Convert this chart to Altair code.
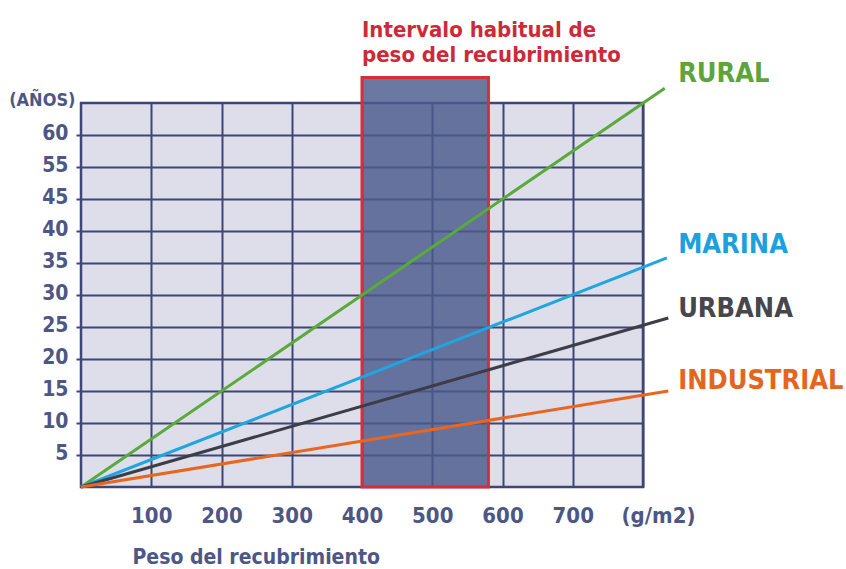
import altair as alt
import pandas as pd

# ---- data ----
series = ["RURAL", "MARINA", "URBANA", "INDUSTRIAL"]
start_x = [0, 0, 0, 0]
start_y = [0, 0, 0, 0]
end_x = [831, 834, 836, 836]
end_y = [62.3, 35.8, 26.4, 15.0]
series_colors = ["#5aaa3a", "#1fa5e0", "#3d3d48", "#e8661f"]
label_colors = ["#5ca53a", "#1ea0dc", "#46464c", "#e4661e"]
label_x = [850, 850, 850, 850]
label_y = [64.5, 37.8, 27.8, 16.5]

band_start = [400]
band_end = [580]
band_low = [0]
band_high = [64]
band_title = ["Intervalo habitual de\npeso del recubrimiento"]
band_title_y = [70.3]

x_tick_values = [100, 200, 300, 400, 500, 600, 700, 800]
x_tick_labels = ["100", "200", "300", "400", "500", "600", "700", "(g/m2)"]
y_tick_values = [5, 10, 15, 20, 25, 30, 35, 40, 45, 50, 55]
y_tick_labels = ["5", "10", "15", "20", "25", "30", "35", "40", "45", "55", "60"]

FONT = "DejaVu Sans Condensed, DejaVu Sans, sans-serif"
AXIS_COLOR = "#4d5785"
GRID = "#3d4677"

def label_expr(values, labels):
    expr = "datum.label"
    for v, l in zip(reversed(values), reversed(labels)):
        expr = f"datum.value == {v} ? '{l}' : ({expr})"
    return expr

lines_df = pd.DataFrame({
    "serie": series * 2,
    "peso": start_x + end_x,
    "anos": start_y + end_y,
    "orden": [0] * 4 + [1] * 4,
})
labels_df = pd.DataFrame({"serie": series, "peso": label_x, "anos": label_y})
band_df = pd.DataFrame({"peso": band_start, "peso2": band_end, "anos": band_low, "anos2": band_high})
title_df = pd.DataFrame({"peso": band_start, "anos": band_title_y, "t": band_title})

xscale = alt.Scale(domain=[0, 800], nice=False, zero=False)
yscale = alt.Scale(domain=[0, 60], nice=False, zero=False)
cscale = alt.Scale(domain=series, range=series_colors)
lscale = alt.Scale(domain=series, range=label_colors)

x_axis = alt.Axis(
    values=x_tick_values, labelExpr=label_expr(x_tick_values, x_tick_labels),
    grid=True, gridColor=GRID, gridWidth=2, gridOpacity=1,
    ticks=False, domain=False, labelFont=FONT, labelFontSize=22, labelFontWeight="bold",
    labelColor=AXIS_COLOR, labelPadding=18, labelFlush=False,
    labelOffset={"condition": {"test": "datum.value == 800", "value": 15}, "value": 0},
    title="Peso del recubrimiento", titleFont=FONT, titleFontSize=21, titleFontWeight="bold",
    titleColor=AXIS_COLOR, titleAnchor="start", titleAlign="left", titleX=51, titleY=76,
    titleBaseline="alphabetic",
)
y_axis = alt.Axis(
    values=y_tick_values, labelExpr=label_expr(y_tick_values, y_tick_labels),
    grid=True, gridColor=GRID, gridWidth=2, gridOpacity=1,
    ticks=True, tickColor=GRID, tickSize=5, tickWidth=2, domain=False,
    labelFont=FONT, labelFontSize=21, labelFontWeight="bold", labelColor=AXIS_COLOR,
    labelPadding=8, labelOffset=-2,
    title="(AÑOS)", titleFont=FONT, titleFontSize=18, titleFontWeight="bold",
    titleColor=AXIS_COLOR, titleAngle=0, titleAlign="right", titleBaseline="alphabetic",
    titleX=-6, titleY=2,
)

X = lambda f: alt.X(f, scale=xscale, axis=x_axis)
Y = lambda f: alt.Y(f, scale=yscale, axis=y_axis)

band = alt.Chart(band_df).mark_rect(
    fill="#4a5a8c", fillOpacity=0.82, stroke="#d3303c", strokeWidth=3, clip=False
).encode(
    x=X("peso:Q"), x2="peso2:Q",
    y=Y("anos:Q"), y2="anos2:Q",
)

band_text = alt.Chart(title_df).mark_text(
    align="left", baseline="alphabetic", font=FONT, fontSize=22, fontWeight="bold",
    color="#cc2a38", lineBreak="\n", lineHeight=25, clip=False
).encode(
    x=X("peso:Q"), y=Y("anos:Q"), text="t:N",
)

lines = alt.Chart(lines_df).mark_line(strokeWidth=3, clip=False).encode(
    x=X("peso:Q"), y=Y("anos:Q"),
    color=alt.Color("serie:N", scale=cscale, legend=None),
    order="orden:Q",
)

labels = alt.Chart(labels_df).mark_text(
    align="left", baseline="middle", font=FONT, fontSize=27, fontWeight="bold", clip=False
).encode(
    x=X("peso:Q"), y=Y("anos:Q"), text="serie:N",
    color=alt.Color("serie:N", scale=lscale, legend=None),
)

chart = alt.layer(band, lines, labels, band_text).resolve_scale(color="independent").properties(
    width=562, height=384,
    autosize=alt.AutoSizeParams(type="none"),
    padding={"left": 81, "top": 103, "right": 203, "bottom": 82},
    background="white",
).configure_view(
    fill="#dddeea", stroke=GRID, strokeWidth=2.5
)

chart.save("out.html", embed_options={"renderer": "svg", "actions": False})
